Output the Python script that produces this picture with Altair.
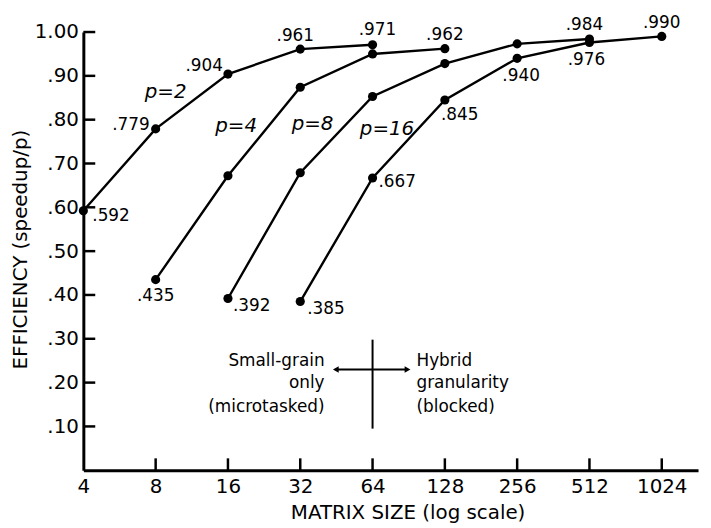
import altair as alt
import pandas as pd

FONT = "DejaVu Sans"

# ---- data ----
p2_sizes = [4, 8, 16, 32, 64]
p2_eff = [0.592, 0.779, 0.904, 0.961, 0.971]
p4_sizes = [8, 16, 32, 64, 128]
p4_eff = [0.435, 0.672, 0.874, 0.950, 0.962]
p8_sizes = [16, 32, 64, 128, 256, 512]
p8_eff = [0.392, 0.679, 0.853, 0.928, 0.973, 0.984]
p16_sizes = [32, 64, 128, 256, 512, 1024]
p16_eff = [0.385, 0.667, 0.845, 0.940, 0.976, 0.990]

series = [("p=2", p2_sizes, p2_eff), ("p=4", p4_sizes, p4_eff),
          ("p=8", p8_sizes, p8_eff), ("p=16", p16_sizes, p16_eff)]

x_tick_values = [4, 8, 16, 32, 64, 128, 256, 512, 1024]
y_tick_values = [0.1, 0.2, 0.3, 0.4, 0.5, 0.6, 0.7, 0.8, 0.9, 1.0]

# labelled points: (series, matrix size)
labelled = [("p=2", 4), ("p=2", 8), ("p=2", 16), ("p=2", 32), ("p=2", 64),
            ("p=4", 8), ("p=4", 128),
            ("p=8", 16), ("p=8", 512),
            ("p=16", 32), ("p=16", 64), ("p=16", 128), ("p=16", 256),
            ("p=16", 512), ("p=16", 1024)]
# label placement styles (dx, dy, align)
label_style = {
    ("p=2", 4): (9, 5, "left"), ("p=2", 8): (-6, -4, "right"),
    ("p=2", 16): (-5, -8, "right"), ("p=2", 32): (-5, -13, "center"),
    ("p=2", 64): (5, -15, "center"), ("p=4", 8): (0, 17, "center"),
    ("p=4", 128): (0, -14, "center"), ("p=8", 16): (5, 8, "left"),
    ("p=8", 512): (-5, -14, "center"), ("p=16", 32): (7, 8, "left"),
    ("p=16", 64): (6, 4, "left"), ("p=16", 128): (15, 15, "center"),
    ("p=16", 256): (4, 18, "center"), ("p=16", 512): (-3, 18, "center"),
    ("p=16", 1024): (0, -13, "center"),
}

# series name annotations (matrix size, efficiency)
series_label_pos = {"p=2": (8.8, 0.864), "p=4": (17.3, 0.785),
                    "p=8": (36.0, 0.79), "p=16": (73.5, 0.778)}

rows = []
for name, s, e in series:
    for a, b in zip(s, e):
        rows.append({"series": name, "size": a, "eff": b})
df = pd.DataFrame(rows)

xscale = alt.Scale(type="log", base=2, domain=[4, 1450], nice=False)
yscale = alt.Scale(domain=[0, 1], nice=False, zero=True)

xaxis = alt.Axis(values=x_tick_values, labelExpr="format(datum.value, 'd')",
                 title="MATRIX SIZE (log scale)", grid=False, ticks=False, tickSize=0,
                 domainColor="black", domainWidth=3, labelFontSize=20, labelFont=FONT,
                 labelColor="black", labelPadding=6, labelFlush=False, labelOverlap=False,
                 titleFontSize=20, titleFont=FONT, titleFontWeight="normal",
                 titleColor="black", titleX=327, titleY=43, titleBaseline="middle")
yaxis = alt.Axis(values=y_tick_values,
                 labelExpr="datum.value == 1 ? '1.00' : replace(format(datum.value, '.2f'), '0.', '.')",
                 title="EFFICIENCY (speedup/p)", grid=False, ticks=False, tickSize=0,
                 domainColor="black", domainWidth=3, labelFontSize=20, labelFont=FONT,
                 labelColor="black", labelPadding=5, labelFlush=False, labelOverlap=False,
                 titleFontSize=20, titleFont=FONT, titleFontWeight="normal",
                 titleColor="black", titleX=-63, titleY=219, titleBaseline="middle")


def X(f):
    return alt.X(f, type="quantitative", scale=xscale, axis=xaxis)


def Y(f):
    return alt.Y(f, type="quantitative", scale=yscale, axis=yaxis)


layers = []

lines = alt.Chart(df).mark_line(color="black", strokeWidth=2.4).encode(
    x=X("size"), y=Y("eff"), detail="series:N")
points = alt.Chart(df).mark_point(filled=True, color="black", size=85, opacity=1).encode(
    x=X("size"), y=Y("eff"))
layers += [lines, points]

# inward ticks
ytk = alt.Chart(pd.DataFrame({"v": y_tick_values})).mark_rule(color="black", strokeWidth=2.5).encode(
    y=Y("v"), x=alt.value(0), x2=alt.value(12))
xtk = alt.Chart(pd.DataFrame({"v": x_tick_values[1:]})).mark_rule(color="black", strokeWidth=2.5).encode(
    x=X("v"), y=alt.value(442), y2=alt.value(430))
layers += [ytk, xtk]

# value labels
lookup = {(r["series"], r["size"]): r["eff"] for r in rows}
for key in labelled:
    val = lookup[key]
    dx, dy, align = label_style[key]
    d = pd.DataFrame({"size": [key[1]], "eff": [val],
                      "t": [("%.3f" % val).lstrip("0")]})
    layers.append(alt.Chart(d).mark_text(font=FONT, fontSize=17, color="black",
                                         dx=dx, dy=dy, align=align, baseline="middle").encode(
        x=X("size"), y=Y("eff"), text="t:N"))

# series names
for name, (sx, sy) in series_label_pos.items():
    d = pd.DataFrame({"size": [sx], "eff": [sy], "t": [name]})
    layers.append(alt.Chart(d).mark_text(font=FONT, fontSize=20, fontStyle="italic",
                                         color="black", align="center", baseline="middle").encode(
        x=X("size"), y=Y("eff"), text="t:N"))

# granularity annotation
vline = pd.DataFrame({"size": [64], "eff": [0.095], "eff2": [0.298]})
layers.append(alt.Chart(vline).mark_rule(color="black", strokeWidth=2).encode(
    x=X("size"), y=Y("eff"), y2="eff2"))
arrow = pd.DataFrame({"size": [45.0], "size2": [89.5], "eff": [0.230]})
layers.append(alt.Chart(arrow).mark_rule(color="black", strokeWidth=2).encode(
    x=X("size"), x2="size2", y=Y("eff")))
heads = pd.DataFrame({"size": [45.0, 89.5], "eff": [0.230, 0.230],
                      "shape": ["triangle-left", "triangle-right"]})
layers.append(alt.Chart(heads).mark_point(filled=True, color="black", size=45, opacity=1).encode(
    x=X("size"), y=Y("eff"),
    shape=alt.Shape("shape:N", scale=None, legend=None)))

left_text = pd.DataFrame({"size": [40.4] * 3, "eff": [0.25, 0.199, 0.145],
                          "t": ["Small-grain", "only", "(microtasked)"]})
right_text = pd.DataFrame({"size": [97.5] * 3, "eff": [0.25, 0.199, 0.145],
                           "t": ["Hybrid", "granularity", "(blocked)"]})
layers.append(alt.Chart(left_text).mark_text(font=FONT, fontSize=17, color="black",
                                             align="right", baseline="middle").encode(
    x=X("size"), y=Y("eff"), text="t:N"))
layers.append(alt.Chart(right_text).mark_text(font=FONT, fontSize=17, color="black",
                                              align="left", baseline="middle").encode(
    x=X("size"), y=Y("eff"), text="t:N"))

chart = alt.layer(*layers).properties(
    width=620, height=442,
    autosize=alt.AutoSizeParams(type="none"),
    padding={"left": 76, "top": 22, "right": 5, "bottom": 55},
    background="white",
).configure_view(stroke=None)

chart.save("out.html", embed_options={"renderer": "svg", "actions": False})
